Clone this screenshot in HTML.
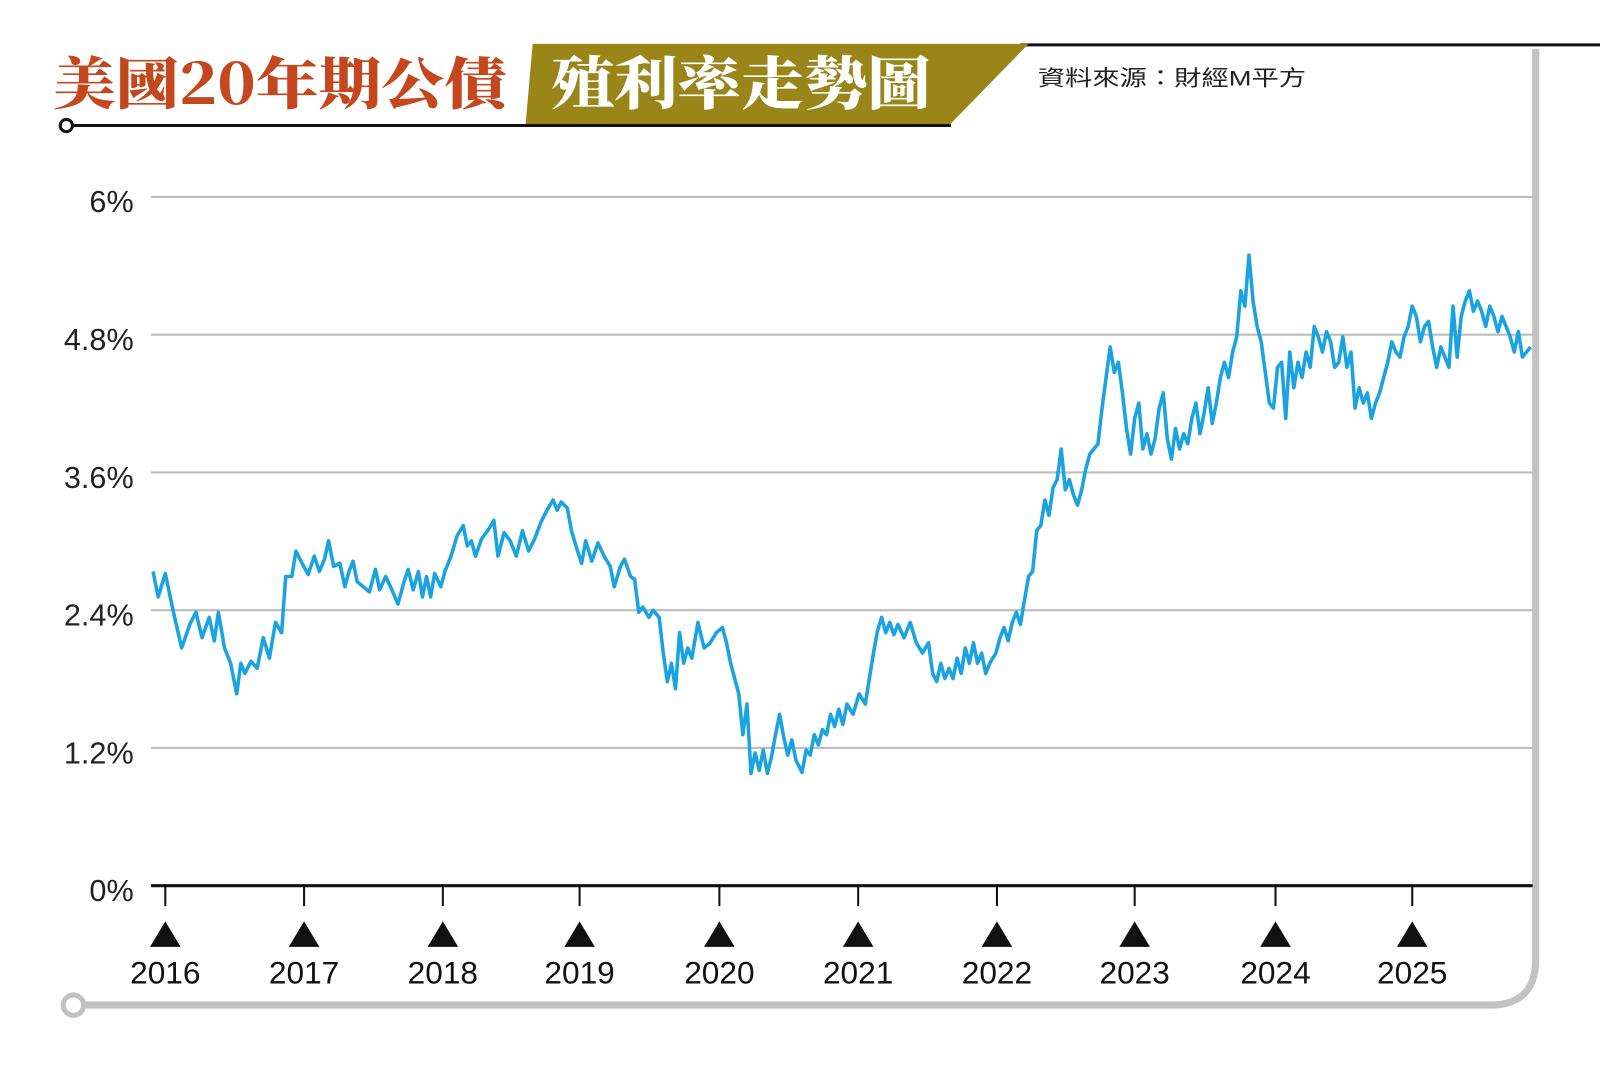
<!DOCTYPE html>
<html><head><meta charset="utf-8"><style>
html,body{margin:0;padding:0;background:#fff;width:1600px;height:1066px;overflow:hidden}
svg{display:block;position:absolute;left:0;top:0}
</style></head><body>
<svg width="1600" height="1066" viewBox="0 0 1600 1066" xmlns="http://www.w3.org/2000/svg">
<rect width="1600" height="1066" fill="#fff"/>
<g transform="scale(1.0204)">
<path d="M1505 48 V940 Q1505 985 1460 985 H80" fill="none" stroke="#c2c2c2" stroke-width="7"/>
<circle cx="72" cy="985" r="10" fill="#fff" stroke="#c2c2c2" stroke-width="5"/>
<line x1="1000" y1="44" x2="1600" y2="44" stroke="#111" stroke-width="3"/>
<polygon points="522,43 1008,43 930,123 515,123" fill="#9a8519"/>
<line x1="65" y1="123" x2="932" y2="123" stroke="#111" stroke-width="3"/>
<circle cx="65" cy="123" r="6" fill="#fff" stroke="#111" stroke-width="3"/>
<text x="52" y="102" font-family="'Noto Serif CJK SC','Noto Sans CJK TC',serif" font-weight="900" font-size="55" fill="#c4471d" textLength="445" lengthAdjust="spacingAndGlyphs">美國20年期公債</text>
<text x="540" y="102" font-family="'Noto Serif CJK SC','Noto Sans CJK TC',serif" font-weight="900" font-size="56" fill="#fff" textLength="372" lengthAdjust="spacingAndGlyphs">殖利率走勢圖</text>
<text x="1017" y="84" font-family="'Liberation Sans','Noto Sans CJK TC',sans-serif" font-size="21" fill="#222" textLength="263" lengthAdjust="spacingAndGlyphs">資料來源：財經M平方</text>
<g stroke="#bdbdbd" stroke-width="2">
<line x1="148" y1="193" x2="1502" y2="193"/><line x1="148" y1="328" x2="1502" y2="328"/>
<line x1="148" y1="463" x2="1502" y2="463"/><line x1="148" y1="598" x2="1502" y2="598"/>
<line x1="148" y1="733" x2="1502" y2="733"/>
</g>
<line x1="148" y1="868" x2="1502" y2="868" stroke="#111" stroke-width="3"/>
<g font-family="'Liberation Sans','DejaVu Sans',sans-serif" font-size="30" fill="#222" text-anchor="end">
<text x="131" y="208">6%</text><text x="131" y="343">4.8%</text><text x="131" y="478">3.6%</text>
<text x="131" y="613">2.4%</text><text x="131" y="748">1.2%</text><text x="131" y="883">0%</text>
</g>
<g stroke="#111" stroke-width="2">
<line x1="162" y1="868" x2="162" y2="888"/><line x1="298" y1="868" x2="298" y2="888"/><line x1="434" y1="868" x2="434" y2="888"/><line x1="568" y1="868" x2="568" y2="888"/><line x1="705" y1="868" x2="705" y2="888"/><line x1="841" y1="868" x2="841" y2="888"/><line x1="977" y1="868" x2="977" y2="888"/><line x1="1112" y1="868" x2="1112" y2="888"/><line x1="1250" y1="868" x2="1250" y2="888"/><line x1="1384" y1="868" x2="1384" y2="888"/>
</g>
<g fill="#111">
<polygon points="162,903 147,928 177,928"/><polygon points="298,903 283,928 313,928"/><polygon points="434,903 419,928 449,928"/><polygon points="568,903 553,928 583,928"/><polygon points="705,903 690,928 720,928"/><polygon points="841,903 826,928 856,928"/><polygon points="977,903 962,928 992,928"/><polygon points="1112,903 1097,928 1127,928"/><polygon points="1250,903 1235,928 1265,928"/><polygon points="1384,903 1369,928 1399,928"/>
</g>
<g font-family="'Liberation Sans','DejaVu Sans',sans-serif" font-size="31" fill="#111" text-anchor="middle">
<text x="162" y="964">2016</text><text x="298" y="964">2017</text><text x="434" y="964">2018</text><text x="568" y="964">2019</text><text x="705" y="964">2020</text><text x="841" y="964">2021</text><text x="977" y="964">2022</text><text x="1112" y="964">2023</text><text x="1250" y="964">2024</text><text x="1384" y="964">2025</text>
</g>
<polyline fill="none" stroke="#1aa3e0" stroke-width="3.5" stroke-linejoin="round" points="150,560 155,585 162,562 170,600 178,635 186,612 192,600 198,625 205,605 210,628 214,600 220,635 226,650 232,680 236,650 240,660 246,648 252,655 258,625 264,645 270,610 276,620 280,565 286,565 290,540 296,552 302,563 308,545 313,560 318,548 322,530 327,555 333,552 338,575 342,560 346,550 350,570 356,575 362,580 368,558 372,578 378,565 384,578 390,592 396,570 400,558 405,578 410,560 414,585 418,565 422,585 426,562 432,575 436,560 442,545 448,525 454,515 458,535 462,530 466,545 472,528 478,520 484,510 488,545 494,522 500,530 506,545 512,520 518,540 524,528 530,512 536,500 542,490 546,500 550,492 556,498 560,520 566,540 570,552 574,530 580,550 586,532 592,545 598,555 602,575 608,555 612,548 618,565 622,568 626,600 630,595 636,605 640,598 646,605 650,640 654,668 658,650 662,675 666,620 670,650 674,635 678,645 684,610 690,635 696,630 702,620 708,615 712,630 716,650 720,665 724,680 728,720 732,690 736,758 740,738 744,755 748,735 752,758 756,742 760,720 764,700 768,722 772,740 776,725 780,745 786,757 790,735 794,740 798,720 802,730 806,715 810,720 814,700 818,712 822,695 826,710 830,690 836,700 842,680 848,690 852,665 856,640 860,618 864,605 868,620 872,610 876,622 880,612 886,625 892,610 898,630 904,640 910,630 914,660 918,668 922,650 926,665 930,655 934,665 938,645 942,660 946,635 950,650 954,630 958,650 962,640 966,660 970,650 976,640 980,625 984,615 988,628 992,610 996,600 1000,612 1004,588 1008,565 1012,560 1016,520 1020,515 1024,490 1028,505 1032,478 1036,470 1040,440 1044,480 1048,470 1052,485 1056,495 1060,480 1064,460 1068,445 1072,440 1076,435 1080,400 1084,370 1088,340 1092,365 1096,355 1100,385 1104,420 1108,445 1112,410 1116,395 1120,440 1124,425 1128,445 1132,430 1136,400 1140,385 1144,430 1148,450 1152,420 1156,440 1160,425 1164,435 1168,410 1172,395 1176,425 1180,405 1184,380 1188,415 1192,395 1196,370 1200,355 1204,370 1208,345 1212,330 1216,285 1220,300 1224,250 1228,295 1232,320 1236,335 1240,365 1244,395 1248,400 1252,360 1256,355 1260,410 1264,345 1268,380 1272,355 1276,370 1280,345 1284,360 1288,320 1292,330 1296,345 1300,325 1304,335 1308,360 1312,355 1316,330 1320,360 1324,345 1328,400 1332,380 1336,395 1340,385 1344,410 1348,395 1352,385 1356,370 1360,355 1364,335 1368,345 1372,350 1376,330 1380,320 1384,300 1388,310 1392,335 1396,320 1400,315 1404,340 1408,360 1412,340 1416,350 1420,360 1424,300 1428,350 1432,310 1436,295 1440,285 1444,305 1448,295 1452,305 1456,320 1460,300 1464,310 1468,325 1472,310 1476,320 1480,330 1484,345 1488,325 1492,350 1496,345 1500,340"/>
</g>
</svg>
</body></html>
